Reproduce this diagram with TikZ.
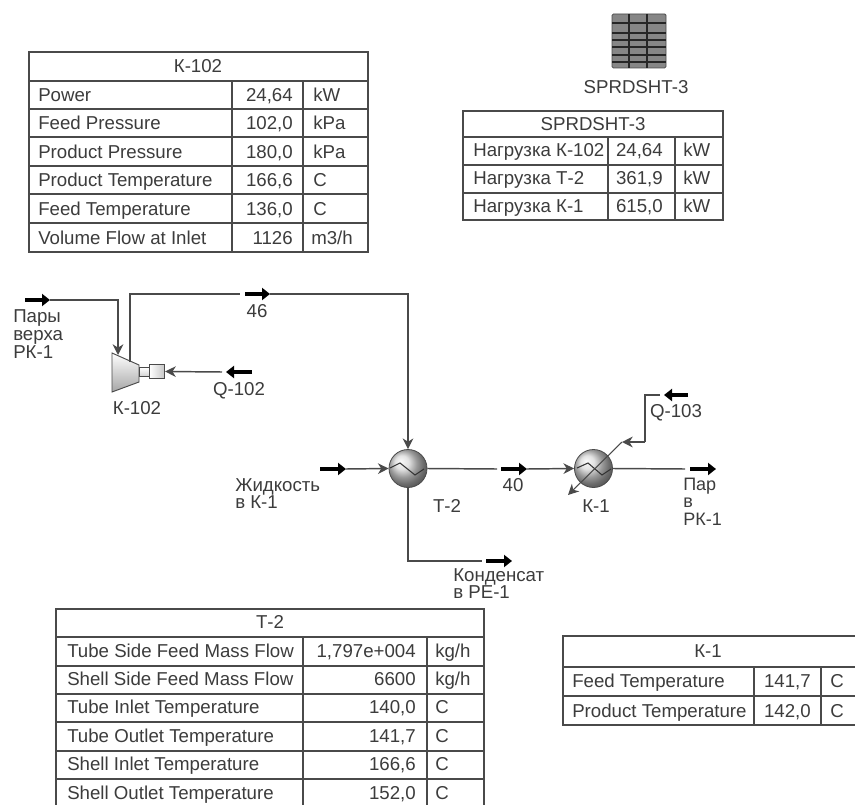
\documentclass[tikz,border=0pt]{standalone}
\usepackage{fontspec}
\setmainfont{Liberation Sans}
\usetikzlibrary{arrows.meta}
\definecolor{lineC}{HTML}{4A4A4A}
\definecolor{textC}{HTML}{3C3C3C}
\newcommand{\tf}{\fontsize{14}{15}\selectfont}
\newcommand{\cellrow}[8]{%
  \node[lft] (#1a) at (#3,#2) {#4};
  \node[rgt] (#1b) at (#5,#2) {#6};
  \node[lft] (#1c) at (#7,#2) {#8};}
\tikzset{
  grid/.style={draw=lineC,line width=1.1pt},
  lft/.style={anchor=base west,inner sep=0pt,text=textC,font=\tf},
  rgt/.style={anchor=base east,inner sep=0pt,text=textC,font=\tf},
  ctr/.style={anchor=base,inner sep=0pt,text=textC,font=\tf},
  lbl/.style={anchor=north west,inner sep=0pt,text=textC,align=left},
  pipe/.style={draw=lineC,line width=1.1pt},
  feed/.style={pipe,-{Stealth[length=8pt,width=8pt,inset=2.5pt]}},
  thin feed/.style={draw=lineC,line width=0.8pt,-{Stealth[length=8pt,width=8pt,inset=2.5pt]}},
  tag/.style={draw=black,line width=3.2pt,-{Triangle[length=6pt,width=9pt]}},
  exch/.style={circle,draw=lineC,line width=0.6pt,minimum size=28.5pt,inner sep=0pt,ball color=gray!30},
  zig/.style={draw=black!80,line width=0.8pt},
}
\begin{document}
\begin{tikzpicture}[x=0.75pt,y=-0.75pt]
\path[use as bounding box,clip] (0,0) rectangle (855,805);
\fill[white] (0,0) rectangle (855,805);

% --- K-102 table
\draw[grid] (29,52) rectangle (368,252);
\foreach \r in {81,109,137,166,194,223} \draw[grid] (29,\r) -- (368,\r);
\draw[grid] (232,81) -- (232,252);
\draw[grid] (303,81) -- (303,252);
\node[ctr] (ktitle) at (198,73) {К-102};
\cellrow{ka}{102}{38}{Power}{293}{24,64}{313}{kW}
\cellrow{kb}{130}{38}{Feed Pressure}{293}{102,0}{313}{kPa}
\cellrow{kc}{159}{38}{Product Pressure}{293}{180,0}{313}{kPa}
\cellrow{kd}{187}{38}{Product Temperature}{293}{166,6}{313}{C}
\cellrow{ke}{216}{38}{Feed Temperature}{293}{136,0}{313}{C}
\cellrow{kf}{245}{38}{Volume Flow at Inlet}{293}{1126}{311}{m3/h}

% --- spreadsheet icon
\node[draw=lineC,fill=gray!95,rounded corners=1pt,minimum width=40.5pt,minimum height=40.5pt,inner sep=0pt,line width=0.6pt] (icon) at (639,41) {};
\foreach \q in {629,647} \draw[black!85,line width=0.8pt] (\q,14) -- (\q,68);
\foreach \q in {23,33,40,47,55,62} \draw[black!85,line width=0.8pt] (612,\q) -- (666,\q);
\node[ctr] (iconlabel) at (636,94) {SPRDSHT-3};

% --- SPRDSHT-3 table
\draw[grid] (463,111) rectangle (723,220);
\foreach \r in {137,165,193} \draw[grid] (463,\r) -- (723,\r);
\draw[grid] (608,137) -- (608,220);
\draw[grid] (675,137) -- (675,220);
\node[ctr] (stitle) at (593,131) {SPRDSHT-3};
\cellrow{sa}{157}{473}{Нагрузка К-102}{663}{24,64}{683}{kW}
\cellrow{sb}{185}{473}{Нагрузка Т-2}{663}{361,9}{683}{kW}
\cellrow{sc}{213}{473}{Нагрузка К-1}{663}{615,0}{683}{kW}

% --- T-2 table
\draw[grid] (56,609) rectangle (484,830);
\foreach \r in {637,666,694,722,751,779} \draw[grid] (56,\r) -- (484,\r);
\draw[grid] (303,637) -- (303,830);
\draw[grid] (427,637) -- (427,830);
\node[ctr] (ttitle) at (270,628) {Т-2};
\cellrow{ta}{657}{67}{Tube Side Feed Mass Flow}{416}{1,797e+004}{435}{kg/h}
\cellrow{tb}{685}{67}{Shell Side Feed Mass Flow}{416}{6600}{435}{kg/h}
\cellrow{tc}{713}{67}{Tube Inlet Temperature}{416}{140,0}{435}{C}
\cellrow{td}{742}{67}{Tube Outlet Temperature}{416}{141,7}{435}{C}
\cellrow{te}{770}{67}{Shell Inlet Temperature}{416}{166,6}{435}{C}
\cellrow{tf}{799}{67}{Shell Outlet Temperature}{416}{152,0}{435}{C}

% --- K-1 table
\draw[grid] (563,636) rectangle (880,725);
\foreach \r in {667,696} \draw[grid] (563,\r) -- (880,\r);
\draw[grid] (754,667) -- (754,725);
\draw[grid] (821,667) -- (821,725);
\node[ctr] (ptitle) at (708,657) {К-1};
\cellrow{pa}{687}{572}{Feed Temperature}{811}{141,7}{830}{C}
\cellrow{pb}{717}{572}{Product Temperature}{811}{142,0}{830}{C}

% --- compressor
\coordinate (c1) at (112,353); \coordinate (c2) at (139,365);
\coordinate (c3) at (139,382); \coordinate (c4) at (112,392);
\shade[top color=white,bottom color=gray!70,draw=lineC,line width=0.7pt] (c1) -- (c2) -- (c3) -- (c4) -- cycle;
\node[draw=lineC,line width=0.7pt,top color=white,bottom color=gray!35,minimum width=7pt,minimum height=6.5pt,inner sep=0pt] (shaft) at (144.5,372) {};
\node[draw=lineC,line width=0.7pt,left color=white,right color=gray!45,minimum width=11.5pt,minimum height=10pt,inner sep=0pt] (drive) at (157,371.5) {};

% --- exchangers
\node[exch] (T2) at (408,468.5) {};
\node[exch] (K1) at (593.5,468.5) {};
\draw[zig] (390,468) -- (400,463) -- (415,475) -- (424,469);
\draw[zig] (577,468) -- (588,463) -- (602,475) -- (611,469);

% --- stream end points
\coordinate (parStart) at (25,300);   \coordinate (parEnd) at (50,300);
\coordinate (compIn) at (118,355);    \coordinate (compOut) at (130,362);
\coordinate (p46a) at (240,294);      \coordinate (p46b) at (245,294);
\coordinate (p46c) at (270,294);      \coordinate (p46d) at (270,294);
\coordinate (qaStart) at (252,372);   \coordinate (qaEnd) at (226,372);
\coordinate (qaPipe) at (222,372);
\coordinate (liqStart) at (320,469);  \coordinate (liqEnd) at (346,469);
\coordinate (p40a) at (497,469);      \coordinate (p40b) at (501,469);
\coordinate (p40c) at (527,469);
\coordinate (outA) at (685,469);      \coordinate (outB) at (690,469);
\coordinate (outC) at (716,469);
\coordinate (qbStart) at (688,395);   \coordinate (qbEnd) at (664,395);
\coordinate (qbPipe) at (660,395);    \coordinate (qbHead) at (622,442);
\coordinate (qbOut) at (568,495);
\coordinate (condA) at (482,561);     \coordinate (condB) at (486,561);
\coordinate (condC) at (512,561);

% --- thick stream tags
\draw[tag] (parStart) -- (parEnd);
\draw[tag] (p46b) -- (p46c);
\draw[tag] (qaStart) -- (qaEnd);
\draw[tag] (liqStart) -- (liqEnd);
\draw[tag] (p40b) -- (p40c);
\draw[tag] (outB) -- (outC);
\draw[tag] (qbStart) -- (qbEnd);
\draw[tag] (condB) -- (condC);

% --- connectors
\draw[feed] (parEnd) -| (compIn);
\draw[pipe] (compOut) |- (p46a);
\draw[feed] (p46d) -| (T2.north);
\draw[feed] (qaPipe) -- (drive.east);
\draw[feed] (liqEnd) -- (T2.west);
\draw[pipe] (T2.east) -- (p40a);
\draw[feed] (p40c) -- (K1.west);
\draw[pipe] (K1.east) -- (outA);
\draw[pipe] (T2.south) |- (condA);
\draw[pipe] (qbPipe) -- ++(-15,0) coordinate (qbCorner) -- (qbCorner |- qbHead);
\draw[feed] (qbCorner |- qbHead) -- (qbHead);
\draw[thin feed] (qbHead) -- (qbOut);

% --- labels
\node[lbl,font=\fontsize{14}{13.3}\selectfont] (lParu) at (13,309.5) {Пары\\верха\\РК-1};
\node[ctr] (l46) at (257,317) {46};
\node[ctr] (lQ102) at (239,395) {Q-102};
\node[ctr] (lK102) at (137,414) {К-102};
\node[lbl,font=\fontsize{14}{12.75}\selectfont] (lLiq) at (235,478.5) {Жидкость\\в К-1};
\node[ctr] (lT2) at (447,512) {Т-2};
\node[ctr] (l40) at (513,491) {40};
\node[ctr] (lK1) at (596,512) {К-1};
\node[lbl,font=\fontsize{13.5}{13}\selectfont] (lPar) at (683,478) {Пар\\в\\РК-1};
\node[ctr] (lQ103) at (676,417) {Q-103};
\node[lbl,font=\fontsize{14}{12.75}\selectfont] (lCond) at (453,568.5) {Конденсат\\в РЕ-1};
\end{tikzpicture}
\end{document}
